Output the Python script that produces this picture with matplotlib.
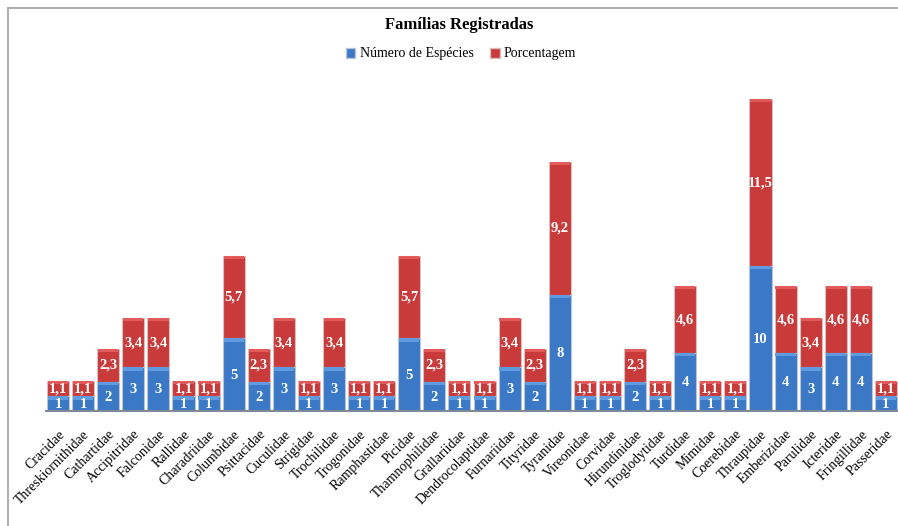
import matplotlib.pyplot as plt
import numpy as np
from matplotlib.lines import Line2D
from matplotlib.patches import Patch

familias = ["Cracidae", "Threskiornithidae", "Cathartidae", "Accipitridae", "Falconidae",
            "Rallidae", "Charadriidae", "Columbidae", "Psittacidae", "Cuculidae", "Strigidae",
            "Trochilidae", "Trogonidae", "Ramphastidae", "Picidae", "Thamnophilidae",
            "Grallariidae", "Dendrocolaptidae", "Furnariidae", "Tityridae", "Tyranidae",
            "Vireonidae", "Corvidae", "Hirundinidae", "Troglodytidae", "Turdidae", "Mimidae",
            "Coerebidae", "Thraupidae", "Emberizidae", "Parulidae", "Icteridae",
            "Fringillidae", "Passeridae"]
especies = [1, 1, 2, 3, 3, 1, 1, 5, 2, 3, 1, 3, 1, 1, 5, 2, 1, 1, 3, 2, 8,
            1, 1, 2, 1, 4, 1, 1, 10, 4, 3, 4, 4, 1]
porcentagem = [1.1, 1.1, 2.3, 3.4, 3.4, 1.1, 1.1, 5.7, 2.3, 3.4, 1.1, 3.4, 1.1, 1.1, 5.7,
               2.3, 1.1, 1.1, 3.4, 2.3, 9.2, 1.1, 1.1, 2.3, 1.1, 4.6, 1.1, 1.1, 11.5,
               4.6, 3.4, 4.6, 4.6, 1.1]

plt.rcParams['font.family'] = ['Liberation Serif', 'DejaVu Serif']

BLUE = "#3b78c6"
RED = "#c93a3a"
BLUE_HI = "#5f9be0"
RED_HI = "#e25a5a"

fig = plt.figure(figsize=(8.98, 5.26), dpi=100)
ax = fig.add_axes([45.5 / 898, 115 / 526, 853 / 898, 326 / 526])

x = np.arange(len(familias))
esp = np.array(especies, dtype=float)
pct = np.array(porcentagem, dtype=float)
w = 0.88

ax.bar(x, esp, w, color=BLUE, edgecolor="#b8c4d6", linewidth=0.8, zorder=2)
ax.bar(x, pct, w, bottom=esp, color=RED, edgecolor="#d8c0c0", linewidth=0.8, zorder=2)
# bevel highlight on the top of each segment
hl = 0.22
ax.bar(x, np.full(len(x), hl), w * 0.92, bottom=esp - hl, color=BLUE_HI, linewidth=0, zorder=3)
ax.bar(x, np.full(len(x), hl), w * 0.92, bottom=esp + pct - hl, color=RED_HI, linewidth=0, zorder=3)

for xi, e, p in zip(x, esp, pct):
    ax.text(xi, e / 2 - 0.05, f"{int(e)}", ha="center", va="center", color="white",
            fontsize=10.5, fontweight="bold", zorder=4)
    ax.text(xi, e + p / 2, f"{p:.1f}".replace(".", ","), ha="center", va="center",
            color="white", fontsize=10.5, fontweight="bold", zorder=4)

ax.set_xlim(-0.5, len(x) - 0.5)
ax.set_ylim(0, 22.48)
ax.set_xticks(x)
ax.set_xticklabels(familias, rotation=45, ha="right", rotation_mode="anchor", fontsize=10)
ax.tick_params(axis="x", length=0, pad=12)
ax.set_yticks([])
for s in ["top", "right", "left"]:
    ax.spines[s].set_visible(False)
ax.spines["bottom"].set_color("#7f8a99")
ax.spines["bottom"].set_linewidth(1.5)

fig.text(459 / 898, 1 - 25 / 526, "Famílias Registradas", ha="center", va="center",
         fontsize=12, fontweight="bold")
handles = [Patch(facecolor=BLUE, edgecolor="#b8c4d6"), Patch(facecolor=RED, edgecolor="#d8c0c0")]
fig.legend(handles, ["Número de Espécies", "Porcentagem"], loc="center",
           bbox_to_anchor=(461 / 898, 1 - 54 / 526), ncol=2, frameon=False, fontsize=10,
           handlelength=0.7, handleheight=0.7, handletextpad=0.3, columnspacing=1.2)

# chart frame (top and left edge visible)
fig.add_artist(Line2D([7.5 / 898, 1], [1 - 7.5 / 526] * 2, color="#b0b0b0", linewidth=1.5,
                      transform=fig.transFigure))
fig.add_artist(Line2D([7.5 / 898] * 2, [0, 1 - 7.5 / 526], color="#b0b0b0", linewidth=1.5,
                      transform=fig.transFigure))

fig.savefig("out.png", dpi=100)
